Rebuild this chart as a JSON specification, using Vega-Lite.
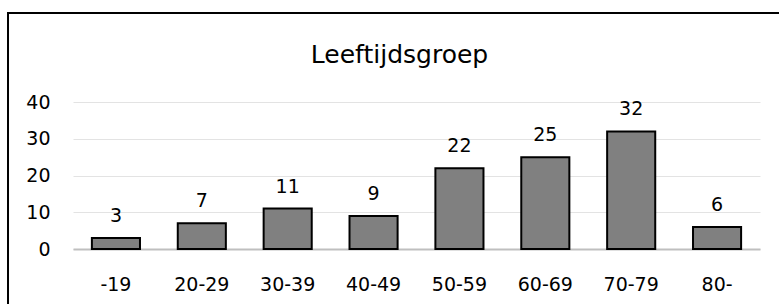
{
  "$schema": "https://vega.github.io/schema/vega-lite/v6.json",
  "width": 687,
  "height": 147,
  "autosize": {"type": "none"},
  "padding": {"left": 73, "top": 102, "right": 19, "bottom": 55},
  "background": "white",
  "config": {"view": {"stroke": null}, "font": "DejaVu Sans"},
  "title": {
    "text": "Leeftijdsgroep",
    "anchor": "middle",
    "frame": "group",
    "dx": -17,
    "offset": -76,
    "baseline": "alphabetic",
    "fontSize": 25,
    "fontWeight": "normal",
    "color": "#000000"
  },
  "data": {
    "values": [
      {"groep": "-19", "aantal": 3},
      {"groep": "20-29", "aantal": 7},
      {"groep": "30-39", "aantal": 11},
      {"groep": "40-49", "aantal": 9},
      {"groep": "50-59", "aantal": 22},
      {"groep": "60-69", "aantal": 25},
      {"groep": "70-79", "aantal": 32},
      {"groep": "80-", "aantal": 6}
    ]
  },
  "resolve": {"scale": {"x": "independent", "y": "independent"}},
  "layer": [
    {
      "encoding": {
        "x": {
          "field": "groep", "type": "nominal", "sort": null,
          "scale": {"paddingInner": 0.44, "paddingOuter": 0.22},
          "axis": {
            "title": null, "labelAngle": 0, "ticks": false,
            "domainColor": "#bfbfbf", "domainWidth": 2,
            "labelFontSize": 19, "labelColor": "#000000",
            "labelBaseline": "middle", "labelPadding": 35
          }
        },
        "y": {
          "field": "aantal", "type": "quantitative",
          "scale": {"domain": [0, 40], "nice": false},
          "axis": {
            "title": null, "values": [0, 10, 20, 30, 40], "ticks": false, "domain": false,
            "labelOverlap": false,
            "gridColor": "#e3e3e3", "gridWidth": 1,
            "labelFontSize": 19, "labelColor": "#000000", "labelPadding": 23
          }
        }
      },
      "layer": [
        {
          "mark": {"type": "bar", "color": "#808080", "stroke": "#000000", "strokeWidth": 2}
        },
        {
          "mark": {"type": "text", "baseline": "alphabetic", "dy": -16, "fontSize": 19, "color": "#000000"},
          "encoding": {
            "text": {"field": "aantal", "type": "quantitative"}
          }
        }
      ]
    },
    {
      "data": {"values": [{}]},
      "mark": {"type": "rect", "fill": null, "stroke": "#000000", "strokeWidth": 2},
      "encoding": {
        "x": {"datum": -0.0946, "type": "quantitative", "scale": {"domain": [0, 1], "nice": false, "zero": false}, "axis": null},
        "x2": {"datum": 1.05},
        "y": {"datum": 64.2, "type": "quantitative", "scale": {"domain": [0, 40], "nice": false, "zero": false}, "axis": null},
        "y2": {"datum": -20}
      }
    }
  ]
}
